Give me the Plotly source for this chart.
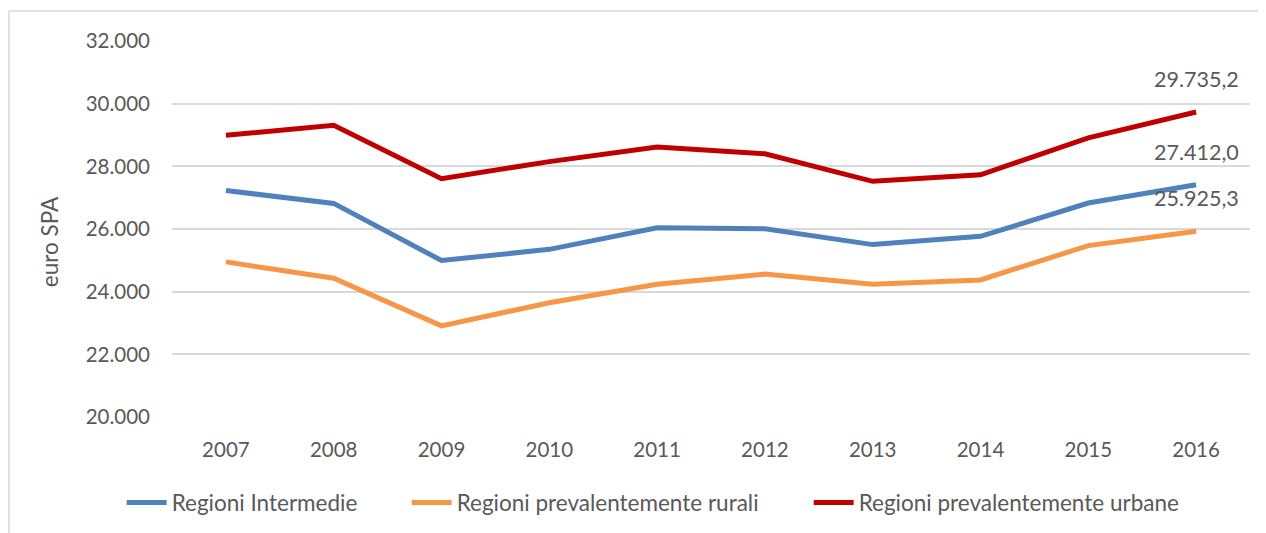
import plotly.graph_objects as go

years = ["2007", "2008", "2009", "2010", "2011", "2012", "2013", "2014", "2015", "2016"]
intermedie = [27228, 26817, 24994, 25351, 26040, 26008, 25502, 25765, 26828, 27412.0]
rurali = [24950, 24429, 22907, 23647, 24236, 24560, 24236, 24375, 25469, 25925.3]
urbane = [28990, 29313, 27608, 28150, 28619, 28403, 27522, 27730, 28911, 29735.2]
y_ticks = [20000, 22000, 24000, 26000, 28000, 30000, 32000]
y_title = "euro SPA"

series = [
    ("Regioni Intermedie", intermedie, "#4F81BD", 230),
    ("Regioni prevalentemente rurali", rurali, "#F79646", 347),
    ("Regioni prevalentemente urbane", urbane, "#C00000", None),
]

FONT = "Lato, 'Open Sans', sans-serif"
GREY = "#595959"


def it_fmt(v, dec=1):
    s = f"{v:,.{dec}f}"
    return s.replace(",", "X").replace(".", ",").replace("X", ".")


fig = go.Figure()
for name, vals, col, lw in series:
    fig.add_trace(go.Scatter(x=years, y=vals, name=name, mode="lines",
                             line=dict(color=col, width=5), legendwidth=lw))
    fig.add_annotation(x=len(years) - 1, y=vals[-1], xref="x", yref="y",
                       text=it_fmt(vals[-1]), showarrow=False, yshift=33,
                       font=dict(family=FONT, size=21.5, color=GREY))

# y axis title
fig.add_annotation(x=-0.1141, y=0.465, xref="paper", yref="paper", text=y_title,
                   textangle=-90, showarrow=False, xanchor="center", yanchor="middle",
                   font=dict(family=FONT, size=22.5, color=GREY))

# page body has an 8px margin: figure is sized to the visible area
fig.update_layout(
    width=1258, height=525,
    paper_bgcolor="white", plot_bgcolor="white",
    margin=dict(l=164, r=16, t=33, b=116, autoexpand=False),
    font=dict(family=FONT, size=20, color=GREY),
    showlegend=True,
    legend=dict(orientation="h", x=-0.0467, xanchor="left", xref="paper",
                y=-0.2283, yanchor="middle", yref="paper", font=dict(size=22.5, color=GREY),
                itemwidth=40, tracegroupgap=0),
    shapes=[
        dict(type="line", xref="paper", yref="paper", x0=-0.1512, x1=1.1, y0=1.0798, y1=1.0798,
             line=dict(color="#D9D9D9", width=1.5)),
        dict(type="line", xref="paper", yref="paper", x0=-0.1512, x1=-0.1512, y0=1.0798, y1=-0.35,
             line=dict(color="#D9D9D9", width=1.5)),
    ],
)
fig.update_xaxes(type="category", range=[-0.5, len(years) - 0.5],
                 showgrid=False, showline=False, ticks="", automargin=False,
                 tickfont=dict(family=FONT, size=20.5, color=GREY), ticklabelstandoff=18)
fig.update_yaxes(range=[20000, 32000], tickvals=y_ticks,
                 ticktext=[it_fmt(v, 0) for v in y_ticks],
                 showgrid=True, gridcolor="#D9D9D9", gridwidth=1.5, zeroline=False,
                 showline=False, ticks="", ticklabelstandoff=21, automargin=False,
                 tickfont=dict(family=FONT, size=20.5, color=GREY))

fig.write_html("out.html")
